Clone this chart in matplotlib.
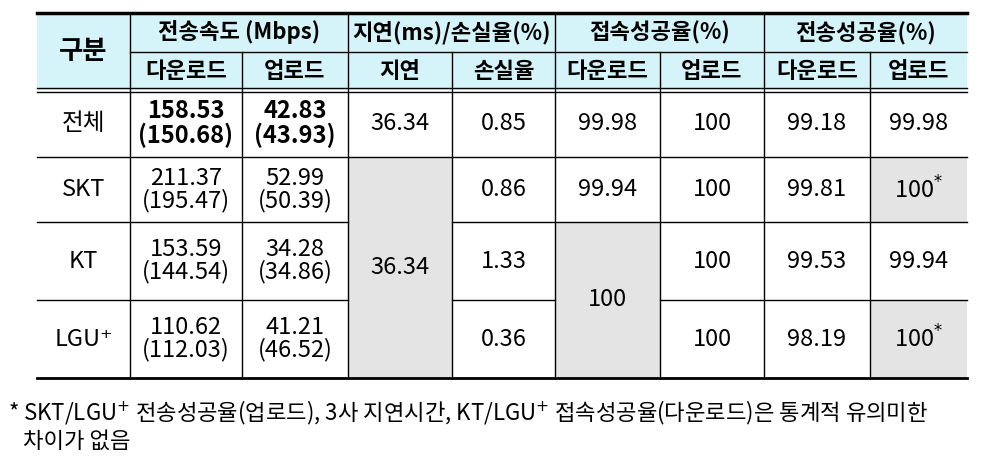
import matplotlib
matplotlib.use("Agg")
import matplotlib.pyplot as plt
from matplotlib.patches import Rectangle

plt.rcParams['font.family'] = ['Noto Sans CJK KR', 'DejaVu Sans']

carriers = ["전체", "SKT", "KT", "LGU⁺"]
down = ["158.53\n(150.68)", "211.37\n(195.47)", "153.59\n(144.54)", "110.62\n(112.03)"]
up = ["42.83\n(43.93)", "52.99\n(50.39)", "34.28\n(34.86)", "41.21\n(46.52)"]
latency = ["36.34", "36.34"]
loss = ["0.85", "0.86", "1.33", "0.36"]
conn_down = ["99.98", "99.94", "100"]
conn_up = ["100", "100", "100", "100"]
tx_down = ["99.18", "99.81", "99.53", "98.19"]
tx_up = ["99.98", "100$^{*}$", "99.94", "100$^{*}$"]
groups = ["전송속도 (Mbps)", "지연(ms)/손실율(%)", "접속성공율(%)", "전송성공율(%)"]
subs = ["다운로드", "업로드", "지연", "손실율", "다운로드", "업로드", "다운로드", "업로드"]
footnote = ["* SKT/LGU$^{+}$ 전송성공율(업로드), 3사 지연시간, KT/LGU$^{+}$ 접속성공율(다운로드)은 통계적 유의미한",
            "   차이가 없음"]

fig = plt.figure(figsize=(10, 4.76), dpi=100)
ax = fig.add_axes([0, 0, 1, 1])
ax.set_xlim(0, 1000); ax.set_ylim(476, 0); ax.axis('off')

xs = [37, 130, 242, 348, 452, 555, 660, 764, 870, 967]
ys = [13, 52, 90, 157, 222, 300, 378]
hdr = '#d4f4fa'; grey = '#e4e4e4'

def rect(x0, x1, y0, y1, c):
    ax.add_patch(Rectangle((x0, y0), x1 - x0, y1 - y0, color=c, lw=0, zorder=0))

rect(xs[0], xs[-1], ys[0], ys[2], hdr)
rect(xs[3], xs[4], ys[3], ys[6], grey)
rect(xs[5], xs[6], ys[4], ys[6], grey)
rect(xs[8], xs[9], ys[3], ys[4], grey)
rect(xs[8], xs[9], ys[5], ys[6], grey)

def cx(i): return (xs[i] + xs[i + 1]) / 2
def cy(j): return (ys[j] + ys[j + 1]) / 2

hs = 16
ax.text(cx(0), (ys[0] + ys[2]) / 2, "구분", ha='center', va='center', fontsize=19, fontweight='bold')
for g, name in enumerate(groups):
    ax.text((xs[1 + 2 * g] + xs[3 + 2 * g]) / 2, cy(0), name, ha='center', va='center', fontsize=hs, fontweight='bold')
for i, s in enumerate(subs):
    ax.text(cx(i + 1), cy(1), s, ha='center', va='center', fontsize=hs, fontweight='bold')

fs = 17
for r in range(4):
    y = cy(r + 2)
    bold = 'bold' if r == 0 else 'normal'
    ax.text(cx(0), y, carriers[r], ha='center', va='center', fontsize=fs)
    ax.text(cx(1), y, down[r], ha='center', va='center', fontsize=fs, fontweight=bold, linespacing=0.95)
    ax.text(cx(2), y, up[r], ha='center', va='center', fontsize=fs, fontweight=bold, linespacing=0.95)
    ax.text(cx(4), y, loss[r], ha='center', va='center', fontsize=fs)
    ax.text(cx(6), y, conn_up[r], ha='center', va='center', fontsize=fs)
    ax.text(cx(7), y, tx_down[r], ha='center', va='center', fontsize=fs)
    ax.text(cx(8), y, tx_up[r], ha='center', va='center', fontsize=fs)
ax.text(cx(3), cy(2), latency[0], ha='center', va='center', fontsize=fs)
ax.text(cx(3), (ys[3] + ys[6]) / 2, latency[1], ha='center', va='center', fontsize=fs)
ax.text(cx(5), cy(2), conn_down[0], ha='center', va='center', fontsize=fs)
ax.text(cx(5), cy(3), conn_down[1], ha='center', va='center', fontsize=fs)
ax.text(cx(5), (ys[4] + ys[6]) / 2, conn_down[2], ha='center', va='center', fontsize=fs)

k = 'black'
ax.plot([xs[0], xs[-1]], [ys[0], ys[0]], color=k, lw=2.5)
ax.plot([xs[0], xs[-1]], [ys[6], ys[6]], color=k, lw=2)
ax.plot([xs[0], xs[-1]], [ys[2] - 2, ys[2] - 2], color=k, lw=1)
ax.plot([xs[0], xs[-1]], [ys[2] + 2, ys[2] + 2], color=k, lw=1)
ax.plot([xs[1], xs[-1]], [ys[1], ys[1]], color=k, lw=1)
for j in (3, 4, 5):
    for a, b in [(xs[0], xs[3]), (xs[4], xs[9])]:
        if j == 5 and a == xs[4]:
            ax.plot([xs[4], xs[5]], [ys[j]] * 2, color=k, lw=1)
            ax.plot([xs[6], xs[9]], [ys[j]] * 2, color=k, lw=1)
        else:
            ax.plot([a, b], [ys[j]] * 2, color=k, lw=1)
ax.plot([xs[3], xs[4]], [ys[3]] * 2, color=k, lw=1)
for i in range(1, 9):
    top = ys[0] if i in (1, 3, 5, 7) else ys[1]
    ax.plot([xs[i], xs[i]], [top, ys[6]], color=k, lw=1)

ax.text(8, 413, footnote[0], ha='left', va='center', fontsize=16)
ax.text(8, 441, footnote[1], ha='left', va='center', fontsize=16)

fig.savefig("out.png", dpi=100, facecolor='white')
